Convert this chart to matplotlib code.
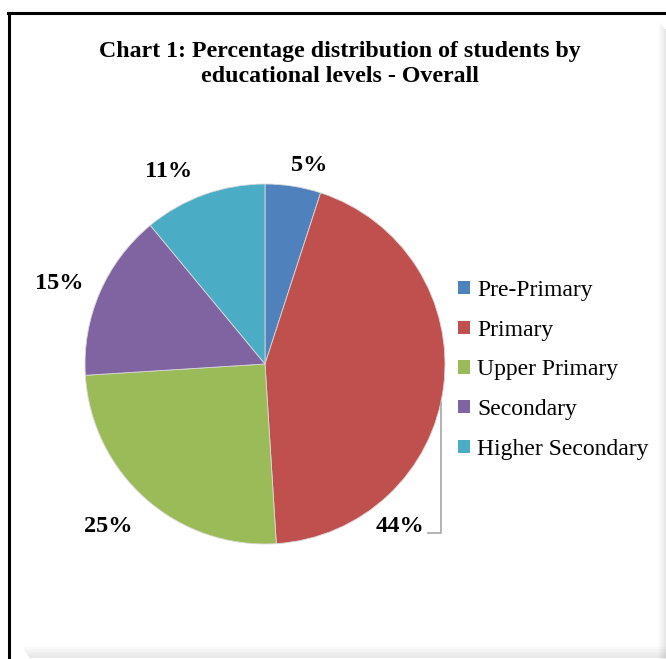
import numpy as np
import matplotlib.pyplot as plt
from matplotlib.patches import Patch, Rectangle
from matplotlib.lines import Line2D

# Chart data
levels = ['Pre-Primary', 'Primary', 'Upper Primary', 'Secondary', 'Higher Secondary']
shares = [5, 44, 25, 15, 11]
colors = ['#4F81BD', '#C0504D', '#9BBB59', '#8064A2', '#4BACC6']

# label nudges (axes data units) so the labels sit where Excel put them
label_nudge = [(0.06, -0.08), (0.0, 0.0), (-0.08, 0.0), (-0.04, -0.03), (-0.13, -0.06)]
LABEL_DIST = 1.2

W, H = 666, 659
fig = plt.figure(figsize=(W / 100, H / 100), dpi=100)
fig.patch.set_facecolor('white')

# frame: black top/left line with a soft grey shadow right and bottom
for i in range(8):
    a = 0.012 * (i + 1)
    fig.add_artist(Rectangle(((658 + i) / W, 0), 1 / W, (H - 22 - i) / H,
                             transform=fig.transFigure, color='black', alpha=a, lw=0))
    fig.add_artist(Rectangle(((22 + i) / W, (12 - i * 1.5) / H), (W - 22 - i) / W, 1.5 / H,
                             transform=fig.transFigure, color='black', alpha=a, lw=0))
fig.add_artist(Line2D([8 / W, 1], [1 - 13 / H, 1 - 13 / H], color='black', lw=2.2,
                      transform=fig.transFigure))
fig.add_artist(Line2D([9 / W, 9 / W], [0, 1 - 13 / H], color='black', lw=2.2,
                      transform=fig.transFigure))

fig.text(340 / W, 1 - 64 / H,
         'Chart 1: Percentage distribution of students by\neducational levels - Overall',
         ha='center', va='center', fontsize=17.2, fontweight='bold',
         family='Liberation Serif', linespacing=1.27)

# pie axes: centre (265, 364) px, radius 180 px
cx, cy, r = 265, 364, 180
ax = fig.add_axes([(cx - r) / W, (H - cy - r) / H, 2 * r / W, 2 * r / H])
wedges, _ = ax.pie(shares, colors=colors, startangle=90, counterclock=False, radius=1,
                   wedgeprops=dict(edgecolor='#d9d9d9', linewidth=0.6))
ax.set_xlim(-1, 1)
ax.set_ylim(-1, 1)
ax.set_aspect('equal')
ax.axis('off')

for k, (w, val) in enumerate(zip(wedges, shares)):
    mid = np.deg2rad((w.theta1 + w.theta2) / 2)
    if levels[k] == 'Primary':
        # label dragged below the slice, with a leader line back to the rim
        lx, ly = 0.75, -0.9
        ax.text(lx, ly, f'{val}%', ha='center', va='center', fontsize=17.5,
                fontweight='bold', family='Liberation Serif', clip_on=False)
        ex = 0.978
        ax.plot([0.905, ex, ex], [-0.94, -0.94, -np.sqrt(1 - ex ** 2)], color='#a6a6a6',
                lw=1.2, clip_on=False)
        continue
    lx = LABEL_DIST * np.cos(mid) + label_nudge[k][0]
    ly = LABEL_DIST * np.sin(mid) + label_nudge[k][1]
    ax.text(lx, ly, f'{val}%', ha='center', va='center', fontsize=17.5,
            fontweight='bold', family='Liberation Serif', clip_on=False)

handles = [Patch(facecolor=c, edgecolor='none') for c in colors]
fig.legend(handles, levels, loc='upper left', bbox_to_anchor=(458 / W, 1 - 280 / H),
           frameon=False, handlelength=0.5, handleheight=0.5,
           handletextpad=0.3, labelspacing=0.79, borderpad=0, borderaxespad=0,
           prop=dict(family='Liberation Serif', size=17))

fig.savefig('out.png', dpi=100, facecolor='white')
